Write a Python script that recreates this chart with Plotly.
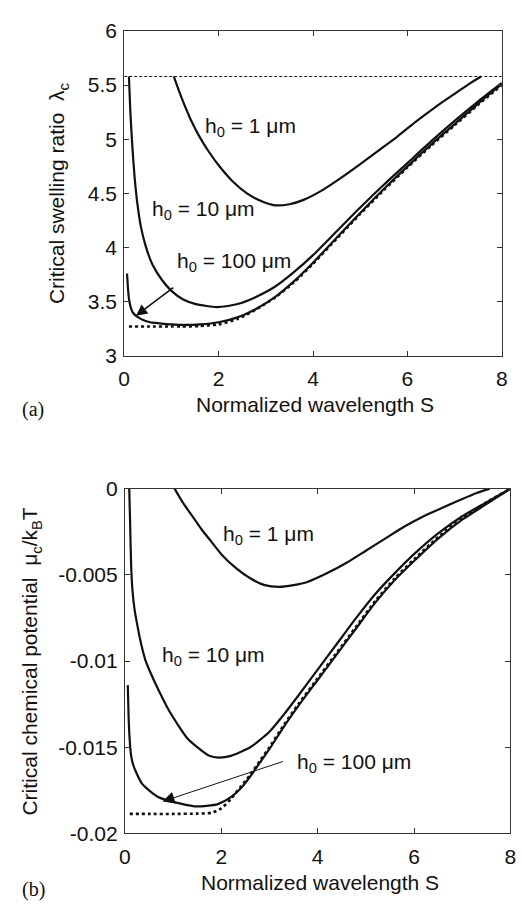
import plotly.graph_objects as go

# ---------------- panel (a): critical swelling ratio ----------------
s_a_h1 = [1.05, 1.2, 1.4, 1.6, 1.8, 2.0, 2.3, 2.6, 2.9, 3.2, 3.5, 3.8, 4.2, 4.6,
          5.0, 5.4, 5.8, 6.2, 6.6, 7.0, 7.3, 7.56]
lam_h1 = [5.58, 5.40, 5.19, 5.02, 4.88, 4.76, 4.61, 4.50, 4.43, 4.39, 4.40, 4.44,
          4.53, 4.645, 4.77, 4.90, 5.03, 5.17, 5.30, 5.42, 5.51, 5.58]

s_a_h10 = [0.10, 0.13, 0.17, 0.22, 0.28, 0.35, 0.45, 0.6, 0.8, 1.0, 1.25, 1.5, 1.75,
           1.95, 2.2, 2.5, 2.8, 3.2, 3.6, 4.0, 4.5, 5.0, 5.5, 6.0, 6.5, 7.0, 7.5, 8.0]
lam_h10 = [5.58, 5.25, 4.95, 4.65, 4.40, 4.20, 4.02, 3.84, 3.70, 3.60, 3.52, 3.48,
           3.46, 3.45, 3.46, 3.49, 3.545, 3.64, 3.775, 3.93, 4.15, 4.37, 4.58, 4.78,
           4.98, 5.17, 5.35, 5.52]

s_a_h100 = [0.06, 0.08, 0.10, 0.13, 0.17, 0.22, 0.30, 0.40, 0.55, 0.75, 1.0, 1.3,
            1.6, 2.0, 2.4, 2.8, 3.2, 3.6, 4.0, 4.5, 5.0, 5.5, 6.0, 6.5, 7.0, 7.5, 8.0]
lam_h100 = [3.76, 3.62, 3.53, 3.46, 3.41, 3.38, 3.355, 3.33, 3.31, 3.30, 3.29, 3.285,
            3.29, 3.31, 3.355, 3.435, 3.545, 3.69, 3.86, 4.09, 4.32, 4.54, 4.75, 4.95,
            5.14, 5.33, 5.51]

s_a_lim = [0.1, 0.5, 1.0, 1.2, 1.6, 2.0, 2.4, 2.8, 3.2, 3.6, 4.0, 4.5, 5.0, 5.5,
           6.0, 6.5, 7.0, 7.5, 8.0]
lam_lim = [3.27, 3.27, 3.27, 3.27, 3.275, 3.29, 3.34, 3.43, 3.54, 3.68, 3.85, 4.08,
           4.31, 4.53, 4.74, 4.94, 5.13, 5.32, 5.50]

lam_upper = 5.58          # horizontal bound drawn dashed
s_range = [0, 8]

# ---------------- panel (b): critical chemical potential ----------------
s_b_h1 = [1.03, 1.2, 1.4, 1.6, 1.8, 2.0, 2.3, 2.6, 2.9, 3.2, 3.5, 3.8, 4.2, 4.6,
          5.0, 5.4, 5.8, 6.2, 6.6, 7.0, 7.3, 7.57]
mu_h1 = [0.0, -0.0008, -0.0016, -0.0024, -0.0031, -0.0038, -0.0046, -0.0052,
         -0.0056, -0.0057, -0.0056, -0.0054, -0.0049, -0.0043, -0.0036, -0.0029,
         -0.0022, -0.0016, -0.0011, -0.0006, -0.00025, 0.0]

s_b_h10 = [0.09, 0.11, 0.13, 0.16, 0.2, 0.25, 0.32, 0.42, 0.55, 0.7, 0.9, 1.1, 1.3,
           1.5, 1.75, 1.95, 2.2, 2.6, 3.0, 3.3, 3.6, 4.0, 4.4, 4.8, 5.2, 5.6,
           6.0, 6.5, 7.0, 7.5, 8.0]
mu_h10 = [0.0, -0.0022, -0.0045, -0.0060, -0.0070, -0.0078, -0.0088, -0.0099,
          -0.0108, -0.0117, -0.0128, -0.0137, -0.0145, -0.0150, -0.0155, -0.0156,
          -0.0155, -0.0150, -0.0141, -0.0131, -0.0120, -0.0105, -0.0090, -0.0075,
          -0.0061, -0.0049, -0.0038, -0.0026, -0.0016, -0.0008, 0.0]

s_b_h100 = [0.06, 0.07, 0.08, 0.10, 0.13, 0.17, 0.24, 0.35, 0.5, 0.7, 0.91, 1.2,
            1.45, 1.7, 1.93, 2.2, 2.4, 2.6, 2.8, 3.0, 3.3, 3.6, 4.0, 4.4, 4.8, 5.2,
            5.6, 6.0, 6.5, 7.0, 7.5, 8.0]
mu_h100 = [-0.0114, -0.0125, -0.0135, -0.0146, -0.0155, -0.0160, -0.0165, -0.0171,
           -0.0175, -0.0179, -0.0181, -0.0183, -0.01843, -0.0184, -0.0183, -0.0179,
           -0.0174, -0.0167, -0.0159, -0.0151, -0.0138, -0.0126, -0.0111, -0.0096,
           -0.0081, -0.0066, -0.0053, -0.0042, -0.0029, -0.0018, -0.0009, 0.0]

s_b_lim = [0.1, 0.5, 1.0, 1.5, 1.8, 2.0, 2.2, 2.4, 2.6, 2.8, 3.0, 3.3, 3.6, 4.0,
           4.4, 4.8, 5.2, 5.6, 6.0, 6.5, 7.0, 7.5, 8.0]
mu_lim = [-0.01887, -0.01887, -0.01887, -0.01885, -0.0188, -0.01855, -0.0180,
          -0.0173, -0.0166, -0.0158, -0.0150, -0.0137, -0.0125, -0.0110, -0.0095,
          -0.0080, -0.0065, -0.0052, -0.0041, -0.0028, -0.0017, -0.0008, 0.0]

# ---------------- tick labels ----------------
x_ticks = [0, 2, 4, 6, 8]
x_ticktext = ["0", "2", "4", "6", "8"]
lam_ticks = [3, 3.5, 4, 4.5, 5, 5.5, 6]
lam_ticktext = ["3", "3.5", "4", "4.5", "5", "5.5", "6"]
mu_ticks = [-0.02, -0.015, -0.01, -0.005, 0]
mu_ticktext = ["-0.02", "-0.015", "-0.01", "-0.005", "0"]

# ---------------- drawing ----------------
W, H = 522, 910
INK = "#111111"
AX = "#333333"
FONT = "Liberation Sans, Arial, sans-serif"
FS = 21


def fx(p):
    return p / W


def fy(p):
    return 1 - p / H


fig = go.Figure()


def curve(x, y, xa, ya, dash="solid", width=2.2):
    fig.add_trace(go.Scatter(
        x=x, y=y, xaxis=xa, yaxis=ya, mode="lines",
        line=dict(color=INK, width=width, dash=dash, shape="spline", smoothing=0.6),
        showlegend=False, hoverinfo="skip"))


# panel (a)
curve(s_range, [lam_upper, lam_upper], "x", "y", dash="3px,2px", width=1)
curve(s_a_lim, lam_lim, "x", "y", dash="dot", width=2.6)
curve(s_a_h100, lam_h100, "x", "y")
curve(s_a_h10, lam_h10, "x", "y")
curve(s_a_h1, lam_h1, "x", "y")

# panel (b)
curve(s_b_lim, mu_lim, "x2", "y2", dash="dot", width=2.6)
curve(s_b_h100, mu_h100, "x2", "y2")
curve(s_b_h10, mu_h10, "x2", "y2")
curve(s_b_h1, mu_h1, "x2", "y2")

axis_common = dict(
    showline=True, mirror="ticks", linecolor=AX, linewidth=1,
    ticks="inside", ticklen=5, tickcolor=AX, tickwidth=1,
    showgrid=False, zeroline=False,
    tickfont=dict(family=FONT, size=FS, color=INK),
)

fig.update_layout(
    width=W, height=H, autosize=False,
    margin=dict(l=0, r=0, t=0, b=0),
    paper_bgcolor="white", plot_bgcolor="white",
    xaxis=dict(domain=[fx(121), fx(507.5)], anchor="y", range=s_range,
               tickvals=x_ticks, ticktext=x_ticktext, ticklabelstandoff=4,
               **axis_common),
    yaxis=dict(domain=[fy(352.7), fy(19.5)], anchor="x", range=[3, 6],
               tickvals=lam_ticks, ticktext=lam_ticktext, ticklabelstandoff=2,
               **axis_common),
    xaxis2=dict(domain=[fx(121.7), fx(516.3)], anchor="y2", range=s_range,
                tickvals=x_ticks, ticktext=x_ticktext, ticklabelstandoff=4,
                **axis_common),
    yaxis2=dict(domain=[fy(842.7), fy(489)], anchor="x2", range=[-0.02, 0],
                tickvals=mu_ticks, ticktext=mu_ticktext, ticklabelstandoff=2,
                **axis_common),
)

txt = dict(family=FONT, size=FS, color=INK)
ann = []

# curve labels
for xa, ya, sx, sy, label in [
    ("x", "y", 1.67, 5.11, "h<sub>0</sub> = 1 \u03bcm"),
    ("x", "y", 0.54, 4.35, "h<sub>0</sub> = 10 \u03bcm"),
    ("x", "y", 1.07, 3.87, "h<sub>0</sub> = 100 \u03bcm"),
    ("x2", "y2", 1.99, -0.0027, "h<sub>0</sub> = 1 \u03bcm"),
    ("x2", "y2", 0.72, -0.0097, "h<sub>0</sub> = 10 \u03bcm"),
    ("x2", "y2", 3.52, -0.0159, "h<sub>0</sub> = 100 \u03bcm"),
]:
    ann.append(dict(xref=xa, yref=ya, x=sx, y=sy, text=label, showarrow=False,
                    xanchor="left", yanchor="middle", font=txt))

# arrows pointing at the h0 = 100 um curves
ann.append(dict(xref="x", yref="y", x=0.25, y=3.37, ax=1.07, ay=3.64,
                axref="x", ayref="y", text="", showarrow=True,
                arrowhead=2, arrowsize=1.4, arrowwidth=1.6, arrowcolor=INK))
ann.append(dict(xref="x2", yref="y2", x=0.78, y=-0.01815, ax=3.31, ay=-0.0158,
                axref="x2", ayref="y2", text="", showarrow=True,
                arrowhead=2, arrowsize=2.4, arrowwidth=1, arrowcolor=INK))

# axis titles
ann.append(dict(xref="paper", yref="paper", x=fx(316), y=fy(403),
                text="Normalized wavelength S", showarrow=False, font=txt,
                xanchor="center", yanchor="middle"))
ann.append(dict(xref="paper", yref="paper", x=fx(321), y=fy(893),
                text="Normalized wavelength S", showarrow=False, font=txt,
                xanchor="center", yanchor="middle"))
ann.append(dict(xref="paper", yref="paper", x=fx(54), y=fy(186),
                text="Critical swelling ratio  \u03bb<sub>c</sub>", showarrow=False,
                font=txt, textangle=-90, xanchor="center", yanchor="middle"))
ann.append(dict(xref="paper", yref="paper", x=fx(26), y=fy(666),
                text="Critical chemical potential  \u03bc<sub>c</sub>/k<sub>B</sub>T",
                showarrow=False, font=txt, textangle=-90,
                xanchor="center", yanchor="middle"))

# panel letters
serif = dict(family="Liberation Serif, Times New Roman, serif", size=20, color=INK)
ann.append(dict(xref="paper", yref="paper", x=fx(28), y=fy(408), text="(a)",
                showarrow=False, font=serif, xanchor="center", yanchor="middle"))
ann.append(dict(xref="paper", yref="paper", x=fx(28), y=fy(900), text="(b)",
                showarrow=False, font=serif, xanchor="center", yanchor="middle"))

fig.update_layout(annotations=ann)
fig.write_html("out.html")
